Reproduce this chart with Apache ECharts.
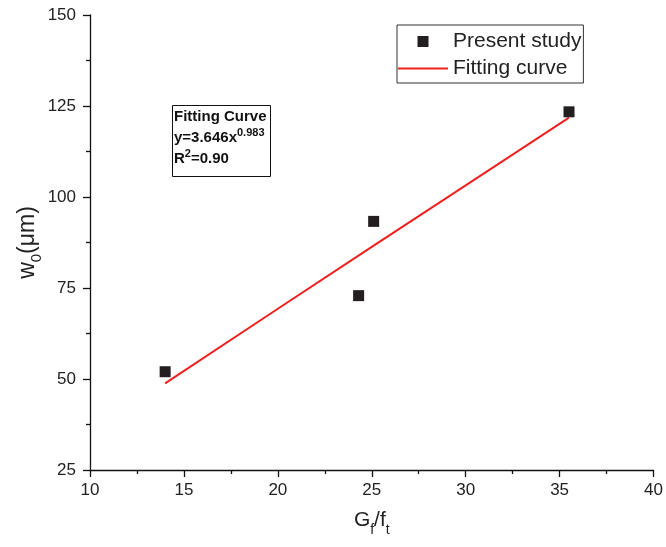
<!DOCTYPE html>
<html>
<head>
<meta charset="utf-8">
<script src="https://cdn.jsdelivr.net/npm/echarts@6/dist/echarts.min.js"></script>
<style>
  html, body { margin: 0; padding: 0; background: #fff; }
  #chart { width: 666px; height: 547px; }
</style>
</head>
<body>
<div id="chart"></div>
<script>
// Measured crack opening vs. fracture energy ratio
const studyX = [14.0, 24.3, 25.1, 35.5];
const studyY = [52.0, 72.9, 93.3, 123.4];

// Power-law fit y = 3.646 x^0.983, sampled over the data range
const fitX = [14, 20, 25, 30, 35.5];
const fitY = [48.8, 69.3, 86.3, 103.2, 121.8];

const xTicks = { min: 10, max: 40, step: 5 };
const yTicks = { min: 25, max: 150, step: 25 };

const FONT = 'Liberation Sans, Arial, Helvetica, sans-serif';
const INK = '#222';
const RED = '#f0201e';

const chart = echarts.init(document.getElementById('chart'), null, { renderer: 'canvas' });

const axisCommon = {
  axisLine: { show: true, lineStyle: { color: '#111', width: 1.3 } },
  axisTick: { show: true, inside: false, length: 7, lineStyle: { color: '#111', width: 1.3 } },
  minorTick: { show: true, splitNumber: 2, length: 4, lineStyle: { color: '#111', width: 1.3 } },
  splitLine: { show: false },
  axisLabel: { color: INK, fontSize: 17, fontFamily: FONT }
};

chart.setOption({
  animation: false,
  backgroundColor: '#fff',
  grid: { left: 90, right: 10, top: 15, bottom: 77, containLabel: false },
  title: {
    left: 172,
    top: 102,
    borderColor: '#111',
    borderWidth: 1,
    padding: [4, 4, 11, 2],
    text: '{b|Fitting Curve}\n{b|y=3.646x}{sup|0.983}\n{b|R}{sup|2}{b|=0.90}',
    textStyle: {
      rich: {
        b: { fontSize: 15, fontWeight: 'bold', fontFamily: FONT, color: '#111', lineHeight: 21 },
        sup: { fontSize: 11, fontWeight: 'bold', fontFamily: FONT, color: '#111', lineHeight: 21, verticalAlign: 'top', padding: [0, 0, 6, 0] }
      }
    }
  },
  legend: {
    orient: 'vertical',
    left: 397,
    top: 25,
    padding: [6, 2, 4, 1],
    itemGap: 6,
    itemWidth: 50,
    itemHeight: 11,
    symbolKeepAspect: true,
    borderColor: '#333',
    borderWidth: 1,
    textStyle: { color: INK, fontSize: 21, fontFamily: FONT },
    data: [
      { name: 'Present study', icon: 'path://M0,0H10V10H0Z' },
      { name: 'Fitting curve', icon: 'path://M0,0H50V2H0Z' }
    ]
  },
  xAxis: Object.assign({}, axisCommon, {
    type: 'value',
    min: xTicks.min,
    max: xTicks.max,
    interval: xTicks.step,
    axisLabel: Object.assign({}, axisCommon.axisLabel, { margin: 12 }),
    name: '{a|G}{s|f}{a|/f}{s|t}',
    nameLocation: 'middle',
    nameMoveOverlap: false,
    nameGap: 40,
    nameTextStyle: {
      rich: {
        a: { fontSize: 21, fontFamily: FONT, color: INK, lineHeight: 27, verticalAlign: 'top' },
        s: { fontSize: 14, fontFamily: FONT, color: INK, lineHeight: 27, verticalAlign: 'bottom' }
      }
    }
  }),
  yAxis: Object.assign({}, axisCommon, {
    type: 'value',
    min: yTicks.min,
    max: yTicks.max,
    interval: yTicks.step,
    axisLabel: Object.assign({}, axisCommon.axisLabel, { margin: 14 }),
    name: '{a|w}{s|0}{a|(μm)}',
    nameLocation: 'middle',
    nameMoveOverlap: false,
    nameRotate: 90,
    nameGap: 46,
    nameTextStyle: {
      rich: {
        a: { fontSize: 23, fontFamily: FONT, color: INK, lineHeight: 28, verticalAlign: 'top' },
        s: { fontSize: 15, fontFamily: FONT, color: INK, lineHeight: 28, verticalAlign: 'bottom' }
      }
    }
  }),
  series: [
    {
      name: 'Present study',
      type: 'scatter',
      symbol: 'rect',
      symbolSize: 11,
      itemStyle: { color: '#231f20', opacity: 1 },
      data: studyX.map((x, i) => [x, studyY[i]]),
      z: 3
    },
    {
      name: 'Fitting curve',
      type: 'line',
      symbol: 'none',
      smooth: false,
      itemStyle: { color: RED },
      lineStyle: { color: RED, width: 2 },
      data: fitX.map((x, i) => [x, fitY[i]]),
      z: 2
    }
  ]
});
</script>
</body>
</html>
